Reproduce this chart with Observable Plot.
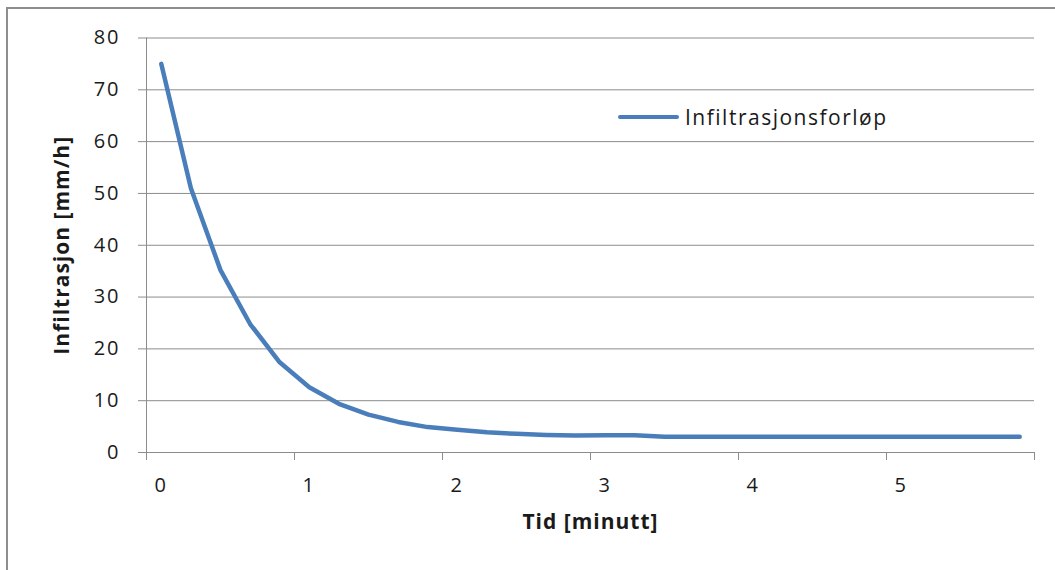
<!DOCTYPE html>
<html>
<head>
<meta charset="utf-8">
<script src="https://cdn.jsdelivr.net/npm/d3@7"></script>
<script src="https://cdn.jsdelivr.net/npm/@observablehq/plot@0.6"></script>
<style>
  body { margin: 0; background: #fff; }
  #wrap { position: relative; width: 1055px; height: 570px; overflow: hidden; font-family: "Open Sans", sans-serif; }
  #frame { position: absolute; left: 6px; top: 7px; right: -10px; bottom: -10px;
           border-top: 2px solid #8e8e8e; border-left: 2px solid #8e8e8e; }
  #legend { position: absolute; left: 618px; top: 103px; display: flex; align-items: center;
            font-size: 21px; letter-spacing: 1.5px; color: #1a1a1a; }
  #legend .swatch { width: 61px; height: 4.5px; border-radius: 2px; background: #4a7ebb; margin-right: 6px; }
  #chart { position: absolute; left: 0; top: 0; }
  #chart svg [aria-label="y-axis tick label"] text,
  #chart svg [aria-label="x-axis tick label"] text { letter-spacing: 2px; }
  #chart svg [aria-label="x-axis label"] text,
  #chart svg [aria-label="y-axis label"] text { font-weight: bold; font-size: 21px; letter-spacing: 1px; }
</style>
</head>
<body>
<div id="wrap">
  <div id="frame"></div>
  <div id="chart"></div>
  <div id="legend"><span class="swatch"></span><span>Infiltrasjonsforløp</span></div>
</div>
<script>
// time in minutes (category axis, every 0.2 min)
const times = [0, 0.2, 0.4, 0.6, 0.8, 1.0, 1.2, 1.4, 1.6, 1.8,
               2.0, 2.2, 2.4, 2.6, 2.8, 3.0, 3.2, 3.4, 3.6, 3.8,
               4.0, 4.2, 4.4, 4.6, 4.8, 5.0, 5.2, 5.4, 5.6, 5.8];
// infiltration rate, mm/h
const infiltration = [75, 51, 35.2, 24.8, 17.4, 12.6, 9.4, 7.3, 5.9, 4.9,
                      4.4, 3.9, 3.6, 3.4, 3.3, 3.35, 3.35, 3.05, 3.05, 3.05,
                      3.05, 3.05, 3.05, 3.05, 3.05, 3.05, 3.05, 3.05, 3.05, 3.05];
const xLabels = [0, 1, 2, 3, 4, 5];
const xTickMarks = [-0.1, 0.9, 1.9, 2.9, 3.9, 4.9, 5.9]; // category boundaries
const yTicks = [0, 10, 20, 30, 40, 50, 60, 70, 80];
const xDomain = [-0.1, 5.9];

const data = times.map((t, i) => ({t, v: infiltration[i]}));
const grey = "#8c8c8c";

const chart = Plot.plot({
  width: 1055, height: 570,
  marginLeft: 146, marginRight: 21, marginTop: 37.5, marginBottom: 118,
  style: {fontFamily: "'Open Sans', sans-serif", fontSize: "20px", color: "#1a1a1a", background: "transparent"},
  x: {domain: xDomain},
  y: {domain: [0, 80]},
  marks: [
    Plot.gridY(yTicks, {stroke: grey, strokeOpacity: 1, strokeWidth: 1}),
    Plot.ruleX([xDomain[0]], {stroke: grey, strokeWidth: 1}),
    Plot.axisY(yTicks, {tickSize: 8, tickPadding: 18, stroke: grey,
      label: "Infiltrasjon [mm/h]", labelAnchor: "center", labelArrow: "none", labelOffset: 92}),
    Plot.axisX(xTickMarks, {tickSize: 8, tickFormat: () => "", stroke: grey, label: null}),
    Plot.axisX(xLabels, {tickSize: 0, tickPadding: 25, tickFormat: d => String(d),
      label: "Tid [minutt]", labelAnchor: "center", labelArrow: "none", labelOffset: 76}),
    Plot.line(data, {x: "t", y: "v", stroke: "#4a7ebb", strokeWidth: 4.5,
      strokeLinejoin: "round", strokeLinecap: "round"})
  ]
});
document.getElementById("chart").appendChild(chart);
</script>
</body>
</html>
